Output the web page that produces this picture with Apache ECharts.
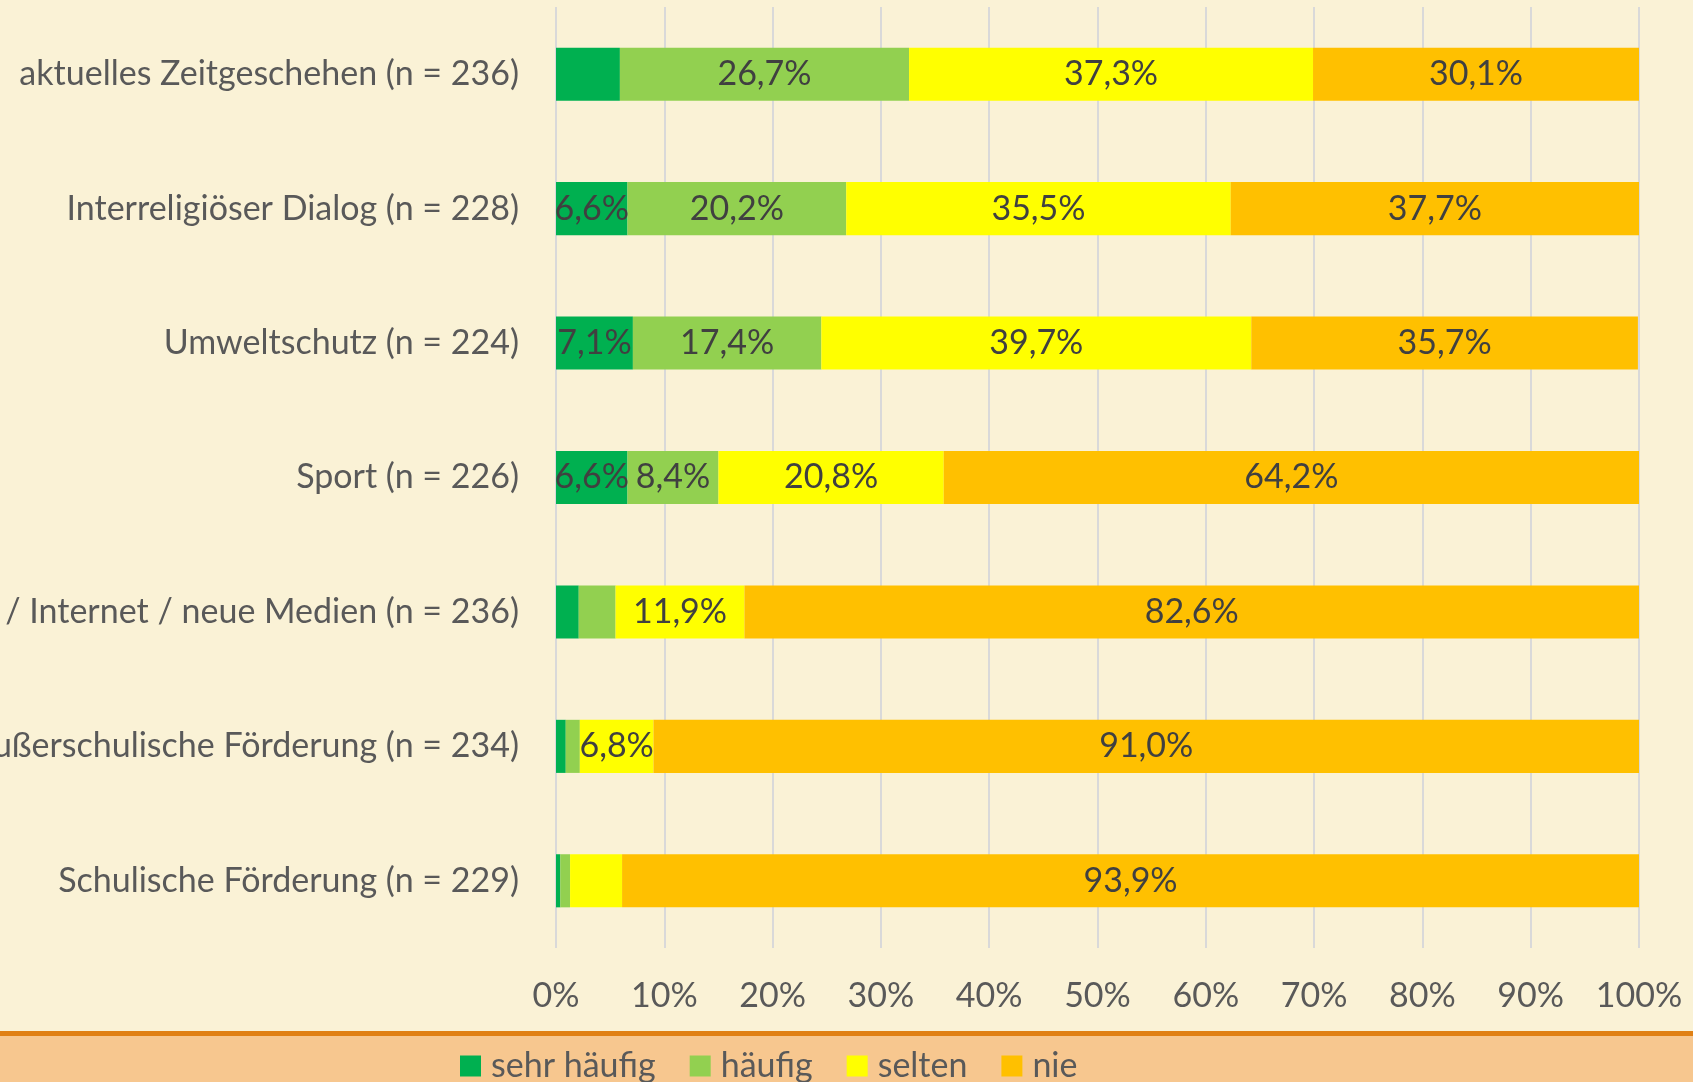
<!DOCTYPE html>
<html>
<head>
<meta charset="utf-8">
<script src="https://cdn.jsdelivr.net/npm/echarts@6/dist/echarts.min.js"></script>
<style>
  html, body { margin: 0; padding: 0; background: #FAF2D6; }
  #chart { width: 1693px; height: 1082px; }
</style>
</head>
<body>
<div id="chart"></div>
<script>
const categories = [
  'aktuelles Zeitgeschehen (n = 236)',
  'Interreligiöser Dialog (n = 228)',
  'Umweltschutz (n = 224)',
  'Sport (n = 226)',
  'Computer / Internet / neue Medien (n = 236)',
  'Außerschulische Förderung (n = 234)',
  'Schulische Förderung (n = 229)'
]
const sehrHaeufig = [5.9, 6.6, 7.1, 6.6, 2.1, 0.9, 0.4]
const haeufig = [26.7, 20.2, 17.4, 8.4, 3.4, 1.3, 0.9]
const selten = [37.3, 35.5, 39.7, 20.8, 11.9, 6.8, 4.8]
const nie = [30.1, 37.7, 35.7, 64.2, 82.6, 91.0, 93.9]
const xTicks = [0, 10, 20, 30, 40, 50, 60, 70, 80, 90, 100]

const font = 'Lato'
const fs = 34

function pct(p) {
  if (p.value < 6) return ''
  return p.value.toFixed(1).replace('.', ',') + '%'
}

function mk(name, data, color) {
  return {
    name, type: 'bar', stack: 'all', data, barWidth: '39.5%',
    itemStyle: { color },
    label: { show: true, position: 'inside', formatter: pct,
      color: '#404040', fontFamily: font, fontSize: fs, padding: [3, 0, 0, 0] },
  }
}

const chart = echarts.init(document.getElementById('chart'))
chart.setOption({
  backgroundColor: '#FAF2D6',
  animation: false,
  grid: { left: 556, right: 54, top: 7, bottom: 134, outerBoundsMode: 'none', containLabel: false },
  xAxis: {
    type: 'value', min: 0, max: 100, interval: 10,
    axisLine: { show: false }, axisTick: { show: false },
    axisLabel: { color: '#595959', fontFamily: font, fontSize: fs, margin: 31,
      formatter: v => xTicks.includes(v) ? v + '%' : '' },
    splitLine: { lineStyle: { color: '#D9D9D9', width: 2 } },
  },
  yAxis: {
    type: 'category', data: categories, inverse: true,
    axisLine: { show: false }, axisTick: { show: false },
    axisLabel: { color: '#595959', fontFamily: font, fontSize: fs, margin: 37,
      padding: [4, 0, 0, 0] },
  },
  legend: {
    left: 460, top: 1048, padding: 0, itemWidth: 21, itemHeight: 21, itemGap: 34,
    icon: 'rect',
    textStyle: { color: '#595959', fontFamily: font, fontSize: fs, lineHeight: 36,
      padding: [0, 0, 0, 5] },
  },
  graphic: [
    { type: 'rect', z: -10, shape: { x: 0, y: 1036, width: 1693, height: 46 },
      style: { fill: '#F7C78F' } },
    { type: 'rect', z: -10, shape: { x: 0, y: 1031, width: 1693, height: 5 },
      style: { fill: '#E08014' } },
  ],
  series: [
    mk('sehr häufig', sehrHaeufig, '#00B050'),
    mk('häufig', haeufig, '#92D050'),
    mk('selten', selten, '#FFFF00'),
    mk('nie', nie, '#FFC000'),
  ],
})
</script>
</body>
</html>
